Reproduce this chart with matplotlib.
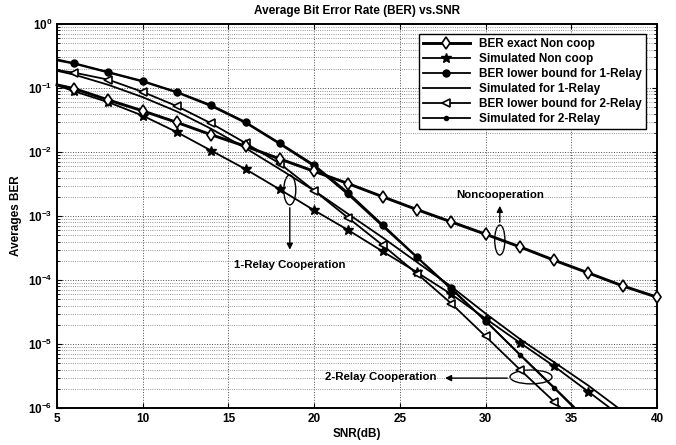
import matplotlib
matplotlib.use('Agg')
import matplotlib.pyplot as plt
from matplotlib.patches import Ellipse
from matplotlib.ticker import FixedLocator, LogLocator, NullFormatter

plt.rcParams['font.family'] = 'Liberation Sans'
plt.rcParams['font.weight'] = 'bold'
plt.rcParams['mathtext.fontset'] = 'custom'
plt.rcParams['mathtext.rm'] = 'Liberation Sans:bold'
plt.rcParams['mathtext.bf'] = 'Liberation Sans:bold'

# SNR in dB (curves start at 5 dB, markers every 2 dB from 6 dB)
snr = [5, 6, 8, 10, 12, 14, 16, 18, 20, 22, 24, 26, 28, 30, 32, 34, 36, 38, 40]

ber_exact_noncoop = [1.12e-1, 9.8e-2, 6.5e-2, 4.4e-2, 2.9e-2, 1.86e-2, 1.23e-2, 7.8e-3, 5.0e-3,
                     3.2e-3, 2.0e-3, 1.26e-3, 8.1e-4, 5.2e-4, 3.3e-4, 2.04e-4, 1.29e-4, 8.1e-5, 5.4e-5]
sim_noncoop = [1.1e-1, 8.9e-2, 6.0e-2, 3.7e-2, 2.04e-2, 1.05e-2, 5.4e-3, 2.6e-3, 1.23e-3,
               6.0e-4, 2.8e-4, 1.32e-4, 6.0e-5, 2.5e-5, 1.05e-5, 4.5e-6, 1.8e-6, 7.1e-7, 2.8e-7]
lb_1relay = [2.8e-1, 2.45e-1, 1.78e-1, 1.29e-1, 8.7e-2, 5.4e-2, 2.95e-2, 1.38e-2, 6.3e-3,
             2.3e-3, 7.3e-4, 2.3e-4, 7.4e-5, 2.3e-5, 6.9e-6, 2.1e-6, 6.3e-7, 1.9e-7, 5.7e-8]
sim_1relay = [1.86e-1, 1.62e-1, 1.12e-1, 7.2e-2, 4.3e-2, 2.3e-2, 1.15e-2, 5.4e-3, 2.5e-3,
              1.07e-3, 4.6e-4, 1.9e-4, 7.9e-5, 3.0e-5, 1.2e-5, 5.2e-6, 2.24e-6, 8.9e-7, 3.5e-7]
lb_2relay = [1.9e-1, 1.74e-1, 1.35e-1, 8.7e-2, 5.2e-2, 2.8e-2, 1.38e-2, 6.6e-3, 2.5e-3,
             9.3e-4, 3.5e-4, 1.26e-4, 4.3e-5, 1.32e-5, 4.0e-6, 1.26e-6, 4.0e-7, 1.2e-7, 4.0e-8]
sim_2relay = [2.7e-1, 2.4e-1, 1.74e-1, 1.26e-1, 8.5e-2, 5.2e-2, 2.85e-2, 1.33e-2, 6.0e-3,
              2.15e-3, 6.9e-4, 2.25e-4, 7.2e-5, 2.3e-5, 6.8e-6, 2.05e-6, 6.0e-7, 2.0e-7, 6.0e-8]
yticks = [1e-6, 1e-5, 1e-4, 1e-3, 1e-2, 1e-1, 1]
xticks = [5, 10, 15, 20, 25, 30, 35, 40]

fig = plt.figure(figsize=(6.76, 4.45), dpi=100)
ax = fig.add_axes([0.0843, 0.083, 0.8876, 0.863])

every = slice(1, None)
ax.plot(snr, ber_exact_noncoop, color='k', lw=2.1, marker='d', ms=6, mfc='white', mec='k',
        mew=1.2, markevery=every, label='BER exact Non coop', clip_on=False, zorder=4)
ax.plot(snr, sim_noncoop, color='k', lw=1.3, marker='*', ms=7, markevery=every,
        label='Simulated Non coop')
ax.plot(snr, lb_1relay, color='k', lw=1.3, marker='o', ms=5, markevery=slice(1, 14),
        label='BER lower bound for 1-Relay')
ax.plot(snr, sim_1relay, color='k', lw=1.3, label='Simulated for 1-Relay')
ax.plot(snr, lb_2relay, color='k', lw=1.3, marker='<', ms=6, mfc='white', mec='k', mew=1.2,
        markevery=every, label='BER lower bound for 2-Relay')
ax.plot(snr, sim_2relay, color='k', lw=1.3, marker='.', ms=6, markevery=every,
        label='Simulated for 2-Relay')

ax.set_yscale('log')
ax.set_xlim(5, 40)
ax.set_ylim(1e-6, 1)
ax.xaxis.set_major_locator(FixedLocator(xticks))
ax.yaxis.set_major_locator(FixedLocator(yticks))
ax.yaxis.set_minor_locator(LogLocator(base=10, subs=range(2, 10), numticks=10))
ax.yaxis.set_minor_formatter(NullFormatter())
ax.tick_params(which='both', direction='in', top=True, right=True, labelsize=8.5)
ax.grid(True, which='major', ls=':', color='0.3', lw=0.7)
ax.grid(True, which='minor', ls=':', color='0.45', lw=0.6)
for s in ax.spines.values():
    s.set_linewidth(1.4)

ax.set_title('Average Bit Error Rate (BER) vs.SNR', fontsize=8.5, fontweight='bold', pad=7)
ax.set_xlabel('SNR(dB)', fontsize=8.5, fontweight='bold', labelpad=2)
ax.set_ylabel('Averages BER', fontsize=8.5, fontweight='bold', labelpad=4)

leg = ax.legend(loc='upper right', fontsize=8.5, handlelength=4, labelspacing=0.25,
                borderpad=0.35, fancybox=False, edgecolor='k', framealpha=1,
                bbox_to_anchor=(0.992, 0.99))
leg.get_frame().set_linewidth(1.0)

# annotations (axes fraction)
tr = ax.transAxes
ax.add_patch(Ellipse((0.388, 0.568), 0.02, 0.078, transform=tr, fill=False, ec='k', lw=1))
ax.annotate('', xy=(0.388, 0.405), xytext=(0.388, 0.529), xycoords=tr, textcoords=tr,
            arrowprops=dict(arrowstyle='-|>', color='k', lw=1, mutation_scale=9))
ax.text(0.388, 0.372, '1-Relay Cooperation', transform=tr, ha='center', va='center',
        fontsize=8.2, fontweight='bold')

ax.add_patch(Ellipse((0.738, 0.4375), 0.017, 0.078, transform=tr, fill=False, ec='k', lw=1))
ax.annotate('', xy=(0.738, 0.534), xytext=(0.738, 0.477), xycoords=tr, textcoords=tr,
            arrowprops=dict(arrowstyle='-|>', color='k', lw=1, mutation_scale=9))
ax.text(0.738, 0.555, 'Noncooperation', transform=tr, ha='center', va='center',
        fontsize=8.2, fontweight='bold')

ax.add_patch(Ellipse((0.79, 0.081), 0.07, 0.036, transform=tr, fill=False, ec='k', lw=1))
ax.annotate('', xy=(0.642, 0.078), xytext=(0.755, 0.078), xycoords=tr, textcoords=tr,
            arrowprops=dict(arrowstyle='-|>', color='k', lw=1, mutation_scale=9))
ax.text(0.633, 0.081, '2-Relay Cooperation', transform=tr, ha='right', va='center',
        fontsize=8.2, fontweight='bold')

fig.savefig('out.png', dpi=100)
